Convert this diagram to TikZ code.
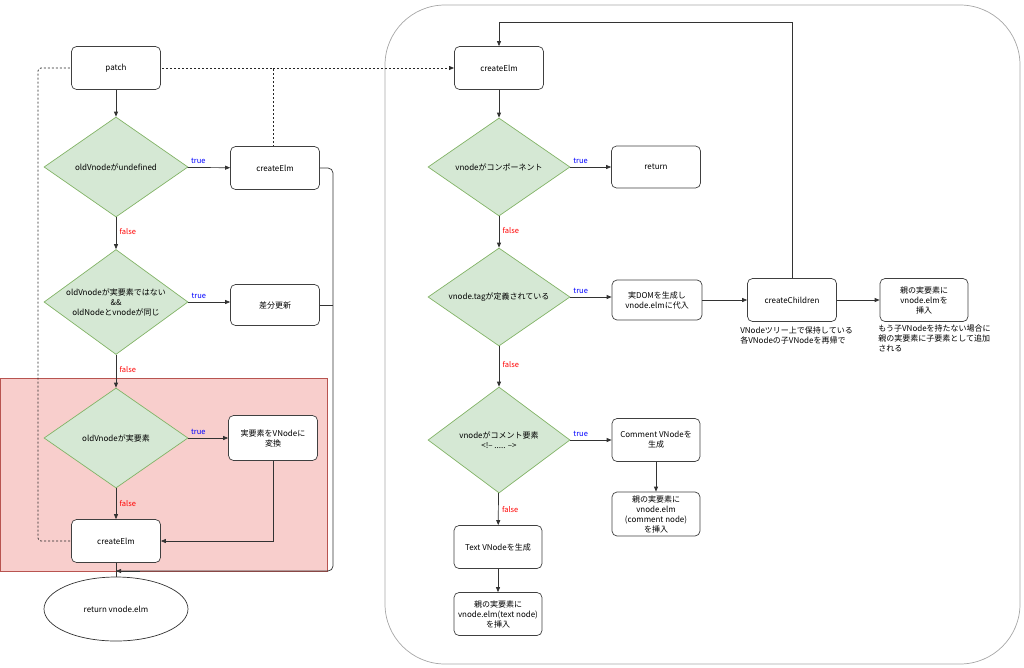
\documentclass[tikz,border=0pt]{standalone}
\usepackage{fontspec}
\setmainfont{Noto Sans CJK JP}
\usetikzlibrary{shapes.geometric,arrows.meta}
\begin{document}
\begin{tikzpicture}[x=1pt,y=-1pt, line width=0.7pt,
  every node/.style={font=\fontsize{8}{10}\selectfont, align=center},
  box/.style={draw=black!75, rounded corners=5pt, fill=white, minimum width=89pt, minimum height=43pt, inner sep=1pt},
  dia/.style={diamond, aspect=1.44, minimum width=144pt, minimum height=100pt, inner sep=0pt},
  arr/.style={-{Triangle[length=5pt,width=4pt]}, draw=black!80},
  ln/.style={draw=black!80},
  dot/.style={draw=black!85, dash pattern=on 2pt off 2pt},
  tl/.style={text=blue, font=\fontsize{7.5}{8}\selectfont},
  fl/.style={text=red, font=\fontsize{7.5}{8}\selectfont}]
\useasboundingbox (0,0) rectangle (1024,667);
\definecolor{dfill}{HTML}{D5E8D4}\definecolor{dline}{HTML}{82B366}
\tikzset{dia/.append style={fill=dfill, draw=dline}}
\definecolor{rfill}{HTML}{F8CECC}\definecolor{rline}{HTML}{B85450}
\draw[fill=rfill, draw=rline] (0,378) rectangle (327,571);
\draw[draw=black!35, rounded corners=60pt] (385,5) rectangle (1020,664);
% dotted
\draw[dot, rounded corners=3pt] (70,541) -- (38,541) -- (38,68) -- (70,68);
\draw[dot] (162,68) -- (273,68);
\draw[dot] (273,147) -- (273,68);
\draw[dot,-{Triangle[length=5pt,width=4pt]}] (273,68) -- (454,68);
% left nodes
\node[box] (patch) at (116,68) {patch};
\node[dia] (d1) at (116,167) {oldVnodeがundefined};
\node[box] (ce1) at (275,168) {createElm};
\node[dia, minimum height=105pt] (d2) at (116,302) {oldVnodeが実要素ではない\\\&\&\\oldNodeとvnodeが同じ};
\node[box, minimum height=41pt] (diff) at (275,305) {差分更新};
\node[dia] (d3) at (116,438) {oldVnodeが実要素};
\node[box, minimum height=45pt] (conv) at (273,438) {実要素をVNodeに\\変換};
\node[box] (ce2) at (116,541) {createElm};
\node[ellipse, draw=black!80, fill=white, minimum width=144pt, minimum height=64pt] (ret) at (116,609) {return vnode.elm};
\draw[arr] (patch) -- (d1);
\draw[arr] (d1) -- node[tl, above, pos=0.25]{true} (ce1);
\draw[arr] (d1) -- node[fl, right, pos=0.45]{false} (d2);
\draw[arr] (d2.east) -- node[tl, above, pos=0.25]{true} (diff.west|-d2.east);
\draw[arr] (d2) -- node[fl, right, pos=0.45]{false} (d3);
\draw[arr] (d3) -- node[tl, above, pos=0.25]{true} (conv);
\draw[arr] (d3) -- node[fl, right, pos=0.5]{false} (ce2);
\draw[arr] (conv.south) |- (ce2.east);
\draw[ln] (ce2) -- (ret);
\draw[ln, rounded corners=5pt] (ce1.east) -- (333,168) -- (333,571) -- (116,571);
\draw[ln, rounded corners=5pt] (diff.east) -- (333,305);
\draw[arr] (140,571) -- (116,571);
% right nodes
\node[box] (cer) at (499,68) {createElm};
\node[dia, minimum height=98pt, minimum width=142pt] (r1) at (499,167) {vnodeがコンポーネント};
\node[box, minimum height=42pt] (rt) at (656,167) {return};
\node[dia, minimum height=98pt, minimum width=142pt] (r2) at (499,297) {vnode.tagが定義されている};
\node[box, minimum height=40pt, minimum width=90pt] (dom) at (657,300) {実DOMを生成し\\vnode.elmに代入};
\node[box] (cc) at (792,300) {createChildren};
\node[box, minimum width=88pt] (ins) at (924,300) {親の実要素に\\vnode.elmを\\挿入};
\node[anchor=north west, align=left, inner sep=0pt] at (740,326) {VNodeツリー上で保持している\\各VNodeの子VNodeを再帰で};
\node[anchor=north west, align=left, inner sep=0pt] at (878,324) {もう子VNodeを持たない場合に\\親の実要素に子要素として追加\\される};
\node[dia, minimum height=106pt, minimum width=142pt] (r3) at (499,440) {vnodeがコメント要素\\<!-- ..... -->};
\node[box, minimum width=88pt] (cm) at (656,440) {Comment VNodeを\\生成};
\node[box, minimum width=88pt, minimum height=44pt] (cmi) at (656,514) {親の実要素に\\vnode.elm\\(comment node)\\を挿入};
\node[box, minimum width=88pt] (tx) at (498,547) {Text VNodeを生成};
\node[box, minimum width=88pt] (txi) at (498,614) {親の実要素に\\vnode.elm(text node)\\を挿入};
\draw[arr] (cer) -- (r1);
\draw[arr] (r1) -- node[tl, above, pos=0.25]{true} (rt);
\draw[arr] (r1) -- node[fl, right, pos=0.45]{false} (r2);
\draw[arr] (r2.east) -- node[tl, above, pos=0.25]{true} (dom.west|-r2.east);
\draw[arr] (dom) -- (cc);
\draw[arr] (cc) -- (ins);
\draw[arr] (cc.north) -- (792,22) -- (499,22) -- (cer.north);
\draw[arr] (r2) -- node[fl, right, pos=0.45]{false} (r3);
\draw[arr] (r3) -- node[tl, above, pos=0.25]{true} (cm);
\draw[arr] (cm) -- (cmi);
\draw[arr] (r3) -- node[fl, right, pos=0.5]{false} (tx);
\draw[arr] (tx) -- (txi);
\end{tikzpicture}
\end{document}
